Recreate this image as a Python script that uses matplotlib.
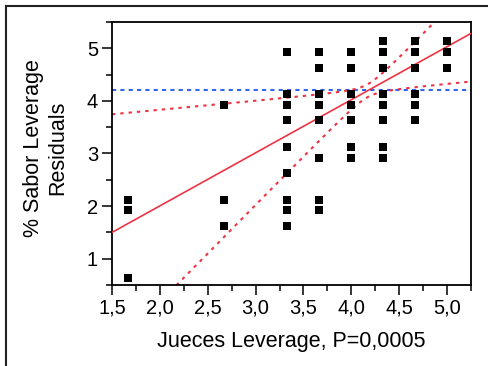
import numpy as np
import matplotlib
matplotlib.use("Agg")
import matplotlib.pyplot as plt
from matplotlib.ticker import MultipleLocator, FuncFormatter
from matplotlib.lines import Line2D

plt.rcParams['font.family'] = ['Liberation Sans', 'DejaVu Sans']

# ---- data ----
x_levels = [1.667, 2.667, 3.333, 3.667, 4.0, 4.333, 4.667, 5.0]
y_1667 = [2.12, 1.93, 0.63]
y_2667 = [3.92, 2.12, 1.63]
y_3333 = [4.93, 4.13, 3.92, 3.63, 3.13, 2.63, 2.12, 1.93, 1.63]
y_3667 = [4.93, 4.63, 4.13, 3.92, 3.63, 2.92, 2.12, 1.93]
y_4000 = [4.93, 4.63, 4.13, 3.92, 3.63, 3.13, 2.92]
y_4333 = [5.13, 4.93, 4.63, 4.13, 3.92, 3.63, 3.13, 2.92]
y_4667 = [5.13, 4.93, 4.63, 4.13, 3.92, 3.63]
y_5000 = [5.13, 4.93, 4.63]
y_groups = [y_1667, y_2667, y_3333, y_3667, y_4000, y_4333, y_4667, y_5000]

fit_intercept = -0.014
fit_slope = 1.009
y_mean = 4.2
conf_center = 4.17
conf_slope = 0.84
conf_min = 0.015

x_ticks = [1.5, 2.0, 2.5, 3.0, 3.5, 4.0, 4.5, 5.0]
y_ticks = [1, 2, 3, 4, 5]

xs = np.concatenate([[xv] * len(g) for xv, g in zip(x_levels, y_groups)])
ys = np.concatenate(y_groups)

W, H = 489, 366
fig = plt.figure(figsize=(W / 100, H / 100), dpi=100)
ax = fig.add_axes([112 / W, 1 - 285 / H, (471 - 112) / W, (285 - 22) / H])

xx = np.linspace(1.5, 5.25, 400)
fit = fit_intercept + fit_slope * xx
hd = np.sqrt(conf_min + (conf_slope * (xx - conf_center)) ** 2)

red = '#EE3344'
ax.axhline(y_mean, color='#3366EE', lw=1.5, dashes=(2, 2), zorder=2)
ax.plot(xx, fit + hd, color=red, lw=1.5, dashes=(1.6, 2.4), zorder=2)
ax.plot(xx, fit - hd, color=red, lw=1.5, dashes=(1.6, 2.4), zorder=2)
ax.plot(xx, fit, color=red, lw=1.2, zorder=3)
ax.scatter(xs, ys, marker='s', s=30, color='black', linewidths=0, zorder=4)

ax.set_xlim(1.5, 5.25)
ax.set_ylim(0.5, 5.5)
ax.set_xticks(x_ticks)
ax.set_yticks(y_ticks)
ax.xaxis.set_minor_locator(MultipleLocator(0.25))
ax.yaxis.set_minor_locator(MultipleLocator(0.5))
ax.xaxis.set_major_formatter(FuncFormatter(lambda v, p: f"{v:.1f}".replace('.', ',')))
ax.yaxis.set_major_formatter(FuncFormatter(lambda v, p: f"{v:.0f}"))
ax.tick_params(which='major', direction='out', length=7, width=1.1, labelsize=14.5, colors='black', pad=3)
ax.tick_params(which='minor', direction='out', length=4, width=1.1)
for s in ax.spines.values():
    s.set_linewidth(1.3)
    s.set_color('black')

fig.text(291.5 / W, 1 - 342 / H, 'Jueces Leverage, P=0,0005', ha='center', va='center', fontsize=15.5)
fig.text(46 / W, 1 - 148 / H, '% Sabor Leverage\nResiduals', ha='center', va='center',
         rotation=90, fontsize=15.5, linespacing=1.2, multialignment='center')

# outer frame (top and left)
fig.add_artist(Line2D([6 / W, 1.0], [1 - 6 / H, 1 - 6 / H], transform=fig.transFigure, color='#222222', lw=1.5))
fig.add_artist(Line2D([6 / W, 6 / W], [0, 1 - 6 / H], transform=fig.transFigure, color='#222222', lw=1.5))

fig.savefig('out.png', dpi=100)
